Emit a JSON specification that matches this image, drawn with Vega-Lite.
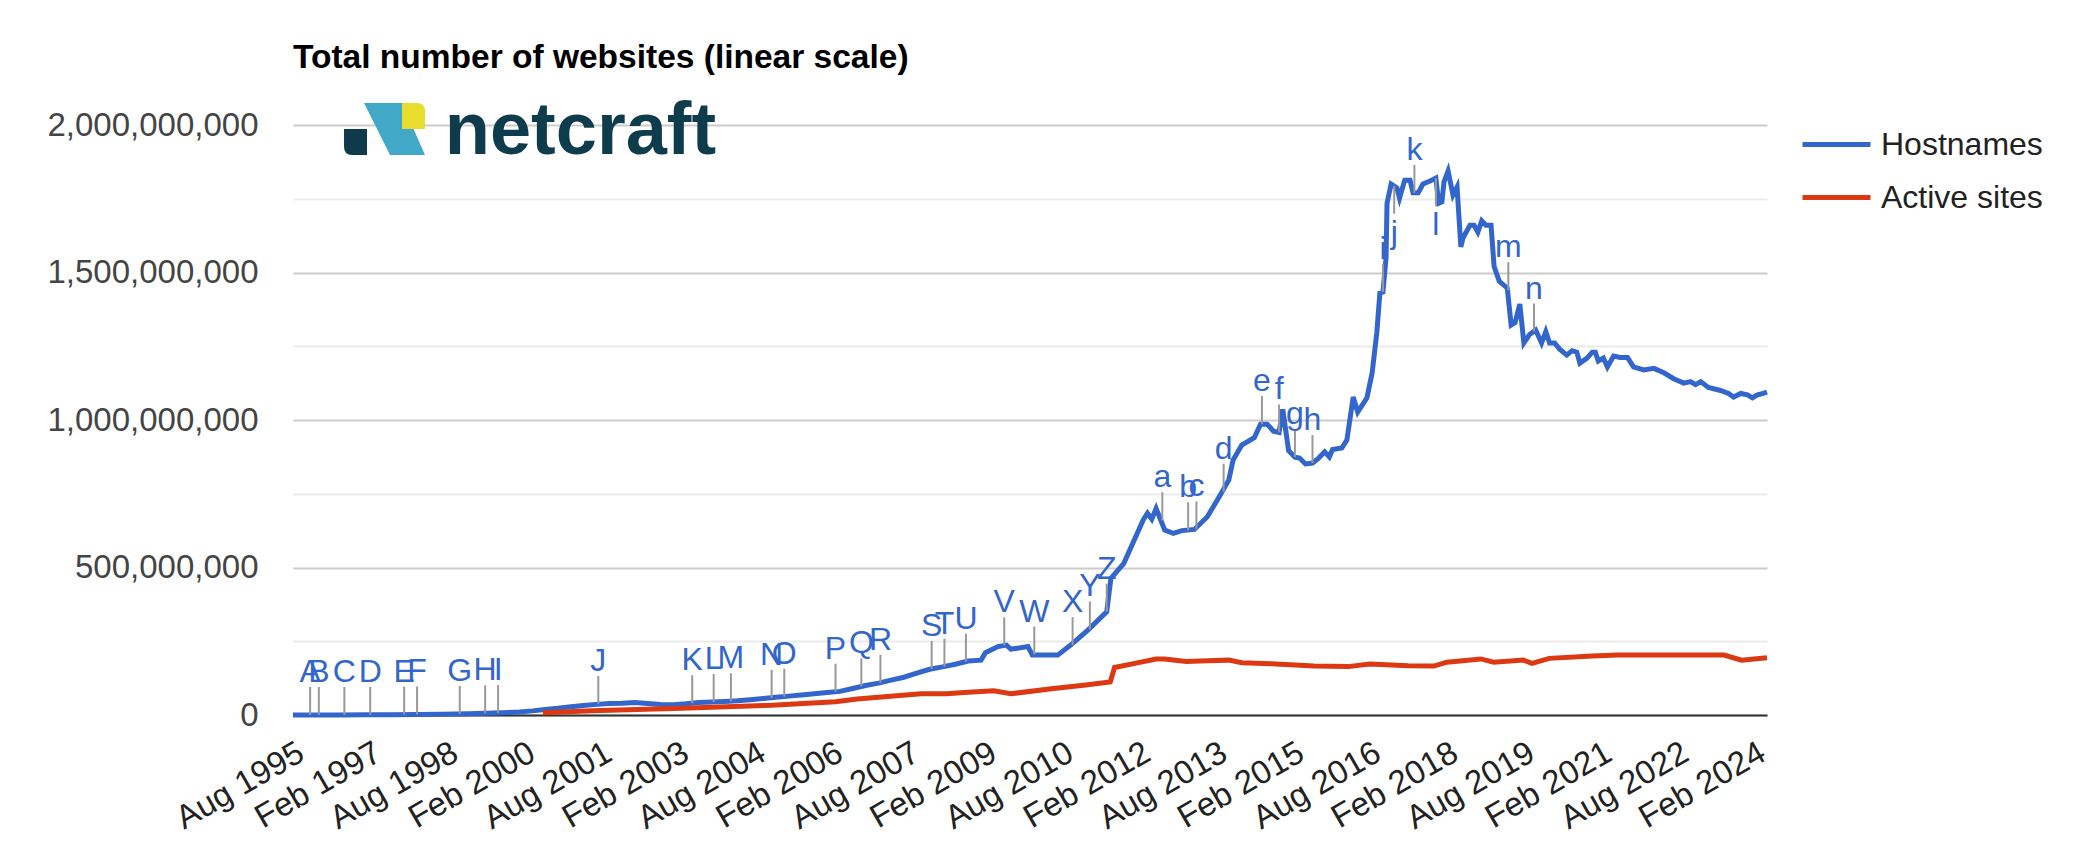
{
  "$schema": "https://vega.github.io/schema/vega-lite/v6.json",
  "autosize": {"type": "none"},
  "padding": {"left": 293, "top": 125, "right": 316, "bottom": 152},
  "width": 1474,
  "height": 590,
  "background": "#ffffff",
  "title": {
    "text": "Total number of websites (linear scale)",
    "anchor": "start",
    "frame": "group",
    "baseline": "alphabetic",
    "offset": -7,
    "font": "Liberation Sans",
    "fontSize": 33.5,
    "fontWeight": "bold",
    "color": "#000000"
  },
  "config": {
    "view": {"stroke": null},
    "font": "Liberation Sans"
  },
  "datasets": {
    "logo": [{"item": "netcraft"}],
    "sites": [
      {"d": "1995-08-01", "s": "Hostnames", "v": 19000},
      {"d": "1996-01-01", "s": "Hostnames", "v": 100000},
      {"d": "1996-07-01", "s": "Hostnames", "v": 300000},
      {"d": "1997-01-01", "s": "Hostnames", "v": 650000},
      {"d": "1997-07-01", "s": "Hostnames", "v": 1200000},
      {"d": "1998-01-01", "s": "Hostnames", "v": 1800000},
      {"d": "1998-07-01", "s": "Hostnames", "v": 2600000},
      {"d": "1999-01-01", "s": "Hostnames", "v": 4000000},
      {"d": "1999-07-01", "s": "Hostnames", "v": 6500000},
      {"d": "2000-01-01", "s": "Hostnames", "v": 10000000},
      {"d": "2000-04-01", "s": "Hostnames", "v": 14000000},
      {"d": "2000-07-01", "s": "Hostnames", "v": 19000000},
      {"d": "2000-10-01", "s": "Hostnames", "v": 23000000},
      {"d": "2001-01-01", "s": "Hostnames", "v": 28000000},
      {"d": "2001-04-01", "s": "Hostnames", "v": 32000000},
      {"d": "2001-07-01", "s": "Hostnames", "v": 36000000},
      {"d": "2001-10-01", "s": "Hostnames", "v": 39000000},
      {"d": "2002-01-01", "s": "Hostnames", "v": 40000000},
      {"d": "2002-04-01", "s": "Hostnames", "v": 42000000},
      {"d": "2002-07-01", "s": "Hostnames", "v": 39000000},
      {"d": "2002-10-01", "s": "Hostnames", "v": 36000000},
      {"d": "2003-01-01", "s": "Hostnames", "v": 35000000},
      {"d": "2003-04-01", "s": "Hostnames", "v": 38000000},
      {"d": "2003-07-01", "s": "Hostnames", "v": 42000000},
      {"d": "2003-10-01", "s": "Hostnames", "v": 44000000},
      {"d": "2004-01-01", "s": "Hostnames", "v": 46000000},
      {"d": "2004-04-01", "s": "Hostnames", "v": 48000000},
      {"d": "2004-07-01", "s": "Hostnames", "v": 52000000},
      {"d": "2004-10-01", "s": "Hostnames", "v": 56000000},
      {"d": "2005-01-01", "s": "Hostnames", "v": 60000000},
      {"d": "2005-04-01", "s": "Hostnames", "v": 64000000},
      {"d": "2005-07-01", "s": "Hostnames", "v": 68000000},
      {"d": "2005-10-01", "s": "Hostnames", "v": 72000000},
      {"d": "2006-01-01", "s": "Hostnames", "v": 76000000},
      {"d": "2006-04-01", "s": "Hostnames", "v": 80000000},
      {"d": "2006-07-01", "s": "Hostnames", "v": 90000000},
      {"d": "2006-10-01", "s": "Hostnames", "v": 100000000},
      {"d": "2007-01-01", "s": "Hostnames", "v": 108000000},
      {"d": "2007-04-01", "s": "Hostnames", "v": 118000000},
      {"d": "2007-07-01", "s": "Hostnames", "v": 128000000},
      {"d": "2007-10-01", "s": "Hostnames", "v": 142000000},
      {"d": "2008-01-01", "s": "Hostnames", "v": 155000000},
      {"d": "2008-04-01", "s": "Hostnames", "v": 163000000},
      {"d": "2008-07-01", "s": "Hostnames", "v": 172000000},
      {"d": "2008-10-01", "s": "Hostnames", "v": 183000000},
      {"d": "2009-01-01", "s": "Hostnames", "v": 186000000},
      {"d": "2009-02-01", "s": "Hostnames", "v": 211000000},
      {"d": "2009-05-01", "s": "Hostnames", "v": 232000000},
      {"d": "2009-07-01", "s": "Hostnames", "v": 237000000},
      {"d": "2009-08-01", "s": "Hostnames", "v": 223000000},
      {"d": "2009-12-01", "s": "Hostnames", "v": 232000000},
      {"d": "2010-01-01", "s": "Hostnames", "v": 203000000},
      {"d": "2010-07-01", "s": "Hostnames", "v": 203000000},
      {"d": "2010-10-01", "s": "Hostnames", "v": 237000000},
      {"d": "2011-02-01", "s": "Hostnames", "v": 288000000},
      {"d": "2011-06-15", "s": "Hostnames", "v": 350000000},
      {"d": "2011-07-15", "s": "Hostnames", "v": 463000000},
      {"d": "2011-10-15", "s": "Hostnames", "v": 514000000},
      {"d": "2012-03-01", "s": "Hostnames", "v": 661000000},
      {"d": "2012-04-01", "s": "Hostnames", "v": 684000000},
      {"d": "2012-05-01", "s": "Hostnames", "v": 664000000},
      {"d": "2012-06-01", "s": "Hostnames", "v": 700000000},
      {"d": "2012-08-01", "s": "Hostnames", "v": 627000000},
      {"d": "2012-10-01", "s": "Hostnames", "v": 616000000},
      {"d": "2012-12-01", "s": "Hostnames", "v": 625000000},
      {"d": "2013-03-01", "s": "Hostnames", "v": 629000000},
      {"d": "2013-06-01", "s": "Hostnames", "v": 672000000},
      {"d": "2013-09-01", "s": "Hostnames", "v": 746000000},
      {"d": "2013-11-01", "s": "Hostnames", "v": 797000000},
      {"d": "2013-12-01", "s": "Hostnames", "v": 864000000},
      {"d": "2014-02-01", "s": "Hostnames", "v": 915000000},
      {"d": "2014-05-01", "s": "Hostnames", "v": 940000000},
      {"d": "2014-06-15", "s": "Hostnames", "v": 986000000},
      {"d": "2014-08-01", "s": "Hostnames", "v": 986000000},
      {"d": "2014-09-15", "s": "Hostnames", "v": 962000000},
      {"d": "2014-10-25", "s": "Hostnames", "v": 958000000},
      {"d": "2014-11-20", "s": "Hostnames", "v": 1036000000},
      {"d": "2015-01-01", "s": "Hostnames", "v": 896000000},
      {"d": "2015-02-15", "s": "Hostnames", "v": 874000000},
      {"d": "2015-03-20", "s": "Hostnames", "v": 871000000},
      {"d": "2015-05-01", "s": "Hostnames", "v": 851000000},
      {"d": "2015-06-20", "s": "Hostnames", "v": 854000000},
      {"d": "2015-08-01", "s": "Hostnames", "v": 870000000},
      {"d": "2015-09-15", "s": "Hostnames", "v": 892000000},
      {"d": "2015-10-18", "s": "Hostnames", "v": 875000000},
      {"d": "2015-11-10", "s": "Hostnames", "v": 900000000},
      {"d": "2016-01-15", "s": "Hostnames", "v": 905000000},
      {"d": "2016-02-20", "s": "Hostnames", "v": 932000000},
      {"d": "2016-04-05", "s": "Hostnames", "v": 1078000000},
      {"d": "2016-05-07", "s": "Hostnames", "v": 1027000000},
      {"d": "2016-07-12", "s": "Hostnames", "v": 1075000000},
      {"d": "2016-08-18", "s": "Hostnames", "v": 1160000000},
      {"d": "2016-09-20", "s": "Hostnames", "v": 1295000000},
      {"d": "2016-10-12", "s": "Hostnames", "v": 1430000000},
      {"d": "2016-11-03", "s": "Hostnames", "v": 1434000000},
      {"d": "2016-11-25", "s": "Hostnames", "v": 1550000000},
      {"d": "2016-12-02", "s": "Hostnames", "v": 1735000000},
      {"d": "2016-12-31", "s": "Hostnames", "v": 1800000000},
      {"d": "2017-02-10", "s": "Hostnames", "v": 1787000000},
      {"d": "2017-03-01", "s": "Hostnames", "v": 1752000000},
      {"d": "2017-04-07", "s": "Hostnames", "v": 1813000000},
      {"d": "2017-05-15", "s": "Hostnames", "v": 1813000000},
      {"d": "2017-06-05", "s": "Hostnames", "v": 1770000000},
      {"d": "2017-07-12", "s": "Hostnames", "v": 1770000000},
      {"d": "2017-08-15", "s": "Hostnames", "v": 1800000000},
      {"d": "2017-10-05", "s": "Hostnames", "v": 1810000000},
      {"d": "2017-11-15", "s": "Hostnames", "v": 1820000000},
      {"d": "2017-12-05", "s": "Hostnames", "v": 1735000000},
      {"d": "2017-12-28", "s": "Hostnames", "v": 1740000000},
      {"d": "2018-01-12", "s": "Hostnames", "v": 1807000000},
      {"d": "2018-02-10", "s": "Hostnames", "v": 1844000000},
      {"d": "2018-03-17", "s": "Hostnames", "v": 1763000000},
      {"d": "2018-04-15", "s": "Hostnames", "v": 1790000000},
      {"d": "2018-05-12", "s": "Hostnames", "v": 1587000000},
      {"d": "2018-05-27", "s": "Hostnames", "v": 1617000000},
      {"d": "2018-07-16", "s": "Hostnames", "v": 1660000000},
      {"d": "2018-08-14", "s": "Hostnames", "v": 1660000000},
      {"d": "2018-09-10", "s": "Hostnames", "v": 1637000000},
      {"d": "2018-10-08", "s": "Hostnames", "v": 1675000000},
      {"d": "2018-11-06", "s": "Hostnames", "v": 1660000000},
      {"d": "2018-12-13", "s": "Hostnames", "v": 1660000000},
      {"d": "2019-01-04", "s": "Hostnames", "v": 1520000000},
      {"d": "2019-02-10", "s": "Hostnames", "v": 1470000000},
      {"d": "2019-04-08", "s": "Hostnames", "v": 1447000000},
      {"d": "2019-05-05", "s": "Hostnames", "v": 1322000000},
      {"d": "2019-06-02", "s": "Hostnames", "v": 1330000000},
      {"d": "2019-07-06", "s": "Hostnames", "v": 1393000000},
      {"d": "2019-08-04", "s": "Hostnames", "v": 1261000000},
      {"d": "2019-09-14", "s": "Hostnames", "v": 1290000000},
      {"d": "2019-10-27", "s": "Hostnames", "v": 1305000000},
      {"d": "2019-12-08", "s": "Hostnames", "v": 1261000000},
      {"d": "2020-01-07", "s": "Hostnames", "v": 1300000000},
      {"d": "2020-02-03", "s": "Hostnames", "v": 1261000000},
      {"d": "2020-03-10", "s": "Hostnames", "v": 1261000000},
      {"d": "2020-04-15", "s": "Hostnames", "v": 1240000000},
      {"d": "2020-06-05", "s": "Hostnames", "v": 1220000000},
      {"d": "2020-07-12", "s": "Hostnames", "v": 1235000000},
      {"d": "2020-08-15", "s": "Hostnames", "v": 1230000000},
      {"d": "2020-09-06", "s": "Hostnames", "v": 1193000000},
      {"d": "2020-10-27", "s": "Hostnames", "v": 1210000000},
      {"d": "2020-12-03", "s": "Hostnames", "v": 1230000000},
      {"d": "2020-12-25", "s": "Hostnames", "v": 1230000000},
      {"d": "2021-01-15", "s": "Hostnames", "v": 1200000000},
      {"d": "2021-02-20", "s": "Hostnames", "v": 1210000000},
      {"d": "2021-03-21", "s": "Hostnames", "v": 1180000000},
      {"d": "2021-05-04", "s": "Hostnames", "v": 1217000000},
      {"d": "2021-06-21", "s": "Hostnames", "v": 1212000000},
      {"d": "2021-08-11", "s": "Hostnames", "v": 1212000000},
      {"d": "2021-09-23", "s": "Hostnames", "v": 1180000000},
      {"d": "2021-12-05", "s": "Hostnames", "v": 1170000000},
      {"d": "2022-02-15", "s": "Hostnames", "v": 1175000000},
      {"d": "2022-04-27", "s": "Hostnames", "v": 1160000000},
      {"d": "2022-07-06", "s": "Hostnames", "v": 1140000000},
      {"d": "2022-09-16", "s": "Hostnames", "v": 1125000000},
      {"d": "2022-11-03", "s": "Hostnames", "v": 1130000000},
      {"d": "2022-12-09", "s": "Hostnames", "v": 1120000000},
      {"d": "2023-01-15", "s": "Hostnames", "v": 1130000000},
      {"d": "2023-03-10", "s": "Hostnames", "v": 1110000000},
      {"d": "2023-06-05", "s": "Hostnames", "v": 1100000000},
      {"d": "2023-08-01", "s": "Hostnames", "v": 1090000000},
      {"d": "2023-09-06", "s": "Hostnames", "v": 1078000000},
      {"d": "2023-10-27", "s": "Hostnames", "v": 1090000000},
      {"d": "2023-12-14", "s": "Hostnames", "v": 1085000000},
      {"d": "2024-01-18", "s": "Hostnames", "v": 1075000000},
      {"d": "2024-02-23", "s": "Hostnames", "v": 1085000000},
      {"d": "2024-04-04", "s": "Hostnames", "v": 1090000000},
      {"d": "2024-05-01", "s": "Hostnames", "v": 1095000000},
      {"d": "2000-06-15", "s": "Active sites", "v": 8000000},
      {"d": "2001-06-01", "s": "Active sites", "v": 14000000},
      {"d": "2003-03-01", "s": "Active sites", "v": 23000000},
      {"d": "2004-12-01", "s": "Active sites", "v": 33000000},
      {"d": "2006-03-01", "s": "Active sites", "v": 45000000},
      {"d": "2006-08-01", "s": "Active sites", "v": 54000000},
      {"d": "2007-11-01", "s": "Active sites", "v": 72000000},
      {"d": "2008-05-01", "s": "Active sites", "v": 72000000},
      {"d": "2008-09-01", "s": "Active sites", "v": 76000000},
      {"d": "2009-04-01", "s": "Active sites", "v": 82000000},
      {"d": "2009-08-01", "s": "Active sites", "v": 72000000},
      {"d": "2010-06-01", "s": "Active sites", "v": 90000000},
      {"d": "2011-01-01", "s": "Active sites", "v": 101000000},
      {"d": "2011-07-10", "s": "Active sites", "v": 112000000},
      {"d": "2011-08-10", "s": "Active sites", "v": 161000000},
      {"d": "2012-01-01", "s": "Active sites", "v": 175000000},
      {"d": "2012-06-01", "s": "Active sites", "v": 190000000},
      {"d": "2012-08-01", "s": "Active sites", "v": 190000000},
      {"d": "2013-01-01", "s": "Active sites", "v": 181000000},
      {"d": "2013-06-01", "s": "Active sites", "v": 184000000},
      {"d": "2013-11-01", "s": "Active sites", "v": 186000000},
      {"d": "2014-02-01", "s": "Active sites", "v": 177000000},
      {"d": "2014-09-01", "s": "Active sites", "v": 174000000},
      {"d": "2015-07-01", "s": "Active sites", "v": 166000000},
      {"d": "2016-03-01", "s": "Active sites", "v": 164000000},
      {"d": "2016-08-01", "s": "Active sites", "v": 173000000},
      {"d": "2017-05-01", "s": "Active sites", "v": 167000000},
      {"d": "2017-11-01", "s": "Active sites", "v": 166000000},
      {"d": "2018-02-01", "s": "Active sites", "v": 179000000},
      {"d": "2018-10-01", "s": "Active sites", "v": 190000000},
      {"d": "2019-01-01", "s": "Active sites", "v": 179000000},
      {"d": "2019-08-01", "s": "Active sites", "v": 186000000},
      {"d": "2019-10-01", "s": "Active sites", "v": 175000000},
      {"d": "2020-02-01", "s": "Active sites", "v": 192000000},
      {"d": "2020-12-01", "s": "Active sites", "v": 200000000},
      {"d": "2021-06-01", "s": "Active sites", "v": 203000000},
      {"d": "2022-11-01", "s": "Active sites", "v": 203000000},
      {"d": "2023-07-01", "s": "Active sites", "v": 203000000},
      {"d": "2023-11-01", "s": "Active sites", "v": 186000000},
      {"d": "2024-05-01", "s": "Active sites", "v": 194000000}
    ],
    "notesAbove": [
      {"d": "1995-12-01", "n": "A", "v": 50000},
      {"d": "1996-02-01", "n": "B", "v": 100000},
      {"d": "1996-08-01", "n": "C", "v": 300000},
      {"d": "1997-02-01", "n": "D", "v": 700000},
      {"d": "1997-10-01", "n": "E", "v": 1500000},
      {"d": "1998-01-01", "n": "F", "v": 1800000},
      {"d": "1998-11-01", "n": "G", "v": 3500000},
      {"d": "1999-05-01", "n": "H", "v": 5500000},
      {"d": "1999-08-01", "n": "I", "v": 7000000},
      {"d": "2001-07-15", "n": "J", "v": 37000000},
      {"d": "2003-05-15", "n": "K", "v": 40000000},
      {"d": "2003-10-15", "n": "L", "v": 44000000},
      {"d": "2004-02-15", "n": "M", "v": 46500000},
      {"d": "2004-12-01", "n": "N", "v": 58000000},
      {"d": "2005-03-01", "n": "O", "v": 62000000},
      {"d": "2006-03-01", "n": "P", "v": 79000000},
      {"d": "2006-09-01", "n": "Q", "v": 97000000},
      {"d": "2007-01-15", "n": "R", "v": 109000000},
      {"d": "2008-01-15", "n": "S", "v": 156000000},
      {"d": "2008-04-15", "n": "T", "v": 164000000},
      {"d": "2008-09-15", "n": "U", "v": 181000000},
      {"d": "2009-06-15", "n": "V", "v": 236000000},
      {"d": "2010-01-15", "n": "W", "v": 205000000},
      {"d": "2010-10-15", "n": "X", "v": 237000000},
      {"d": "2011-02-15", "n": "Y", "v": 290000000},
      {"d": "2011-06-15", "n": "Z", "v": 350000000},
      {"d": "2012-07-15", "n": "a", "v": 660000000},
      {"d": "2013-01-15", "n": "b", "v": 626000000},
      {"d": "2013-03-15", "n": "c", "v": 629000000},
      {"d": "2013-09-25", "n": "d", "v": 757000000},
      {"d": "2014-06-25", "n": "e", "v": 986000000},
      {"d": "2014-10-25", "n": "f", "v": 958000000},
      {"d": "2015-02-15", "n": "g", "v": 874000000},
      {"d": "2015-06-20", "n": "h", "v": 854000000},
      {"d": "2016-11-03", "n": "i", "v": 1434000000},
      {"d": "2017-06-15", "n": "k", "v": 1770000000},
      {"d": "2019-04-15", "n": "m", "v": 1440000000},
      {"d": "2019-10-15", "n": "n", "v": 1300000000}
    ],
    "notesBelow": [
      {"d": "2017-01-22", "n": "j", "v": 1794000000},
      {"d": "2017-11-15", "n": "l", "v": 1820000000}
    ]
  },
  "layer": [
    {
      "data": {"name": "sites"},
      "mark": {"type": "line", "strokeWidth": 5, "interpolate": "linear"},
      "encoding": {
        "x": {
          "field": "d",
          "type": "temporal",
          "scale": {
            "type": "utc",
            "domain": [
              {"year": 1995, "month": 8, "date": 1, "utc": true},
              {"year": 2024, "month": 5, "date": 1, "utc": true}
            ]
          },
          "axis": {
            "title": null,
            "values": [
              {"year": 1995, "month": 8, "date": 1, "utc": true},
              {"year": 1997, "month": 2, "date": 1, "utc": true},
              {"year": 1998, "month": 8, "date": 1, "utc": true},
              {"year": 2000, "month": 2, "date": 1, "utc": true},
              {"year": 2001, "month": 8, "date": 1, "utc": true},
              {"year": 2003, "month": 2, "date": 1, "utc": true},
              {"year": 2004, "month": 8, "date": 1, "utc": true},
              {"year": 2006, "month": 2, "date": 1, "utc": true},
              {"year": 2007, "month": 8, "date": 1, "utc": true},
              {"year": 2009, "month": 2, "date": 1, "utc": true},
              {"year": 2010, "month": 8, "date": 1, "utc": true},
              {"year": 2012, "month": 2, "date": 1, "utc": true},
              {"year": 2013, "month": 8, "date": 1, "utc": true},
              {"year": 2015, "month": 2, "date": 1, "utc": true},
              {"year": 2016, "month": 8, "date": 1, "utc": true},
              {"year": 2018, "month": 2, "date": 1, "utc": true},
              {"year": 2019, "month": 8, "date": 1, "utc": true},
              {"year": 2021, "month": 2, "date": 1, "utc": true},
              {"year": 2022, "month": 8, "date": 1, "utc": true},
              {"year": 2024, "month": 2, "date": 1, "utc": true}
            ],
            "format": "%b %Y",
            "labelAngle": -30,
            "labelAlign": "right",
            "labelBaseline": "top",
            "labelFont": "Liberation Sans",
            "labelFontSize": 33,
            "labelColor": "#222222",
            "labelPadding": 21,
            "labelOverlap": false,
            "labelFlush": false,
            "labelBound": false,
            "ticks": false,
            "tickSize": 0,
            "grid": false,
            "domainColor": "#333333",
            "domainWidth": 2
          }
        },
        "y": {
          "field": "v",
          "type": "quantitative",
          "scale": {"domain": [0, 2000000000], "nice": false},
          "axis": {
            "title": null,
            "values": [0, 250000000, 500000000, 750000000, 1000000000, 1250000000, 1500000000, 1750000000, 2000000000],
            "labelExpr": "datum.value % 500000000 === 0 ? format(datum.value, ',') : ''",
            "labelFont": "Liberation Sans",
            "labelFontSize": 33,
            "labelColor": "#444444",
            "labelPadding": 35,
            "labelLimit": 0,
            "ticks": false,
            "domain": false,
            "grid": true,
            "gridWidth": 2,
            "gridColor": {"condition": {"test": "datum.value % 500000000 === 0", "value": "#cccccc"}, "value": "#ebebeb"}
          }
        },
        "color": {
          "field": "s",
          "type": "nominal",
          "scale": {"domain": ["Hostnames", "Active sites"], "range": ["#3366CC", "#DC3912"]},
          "legend": {
            "title": null,
            "orient": "none",
            "legendX": 1507,
            "legendY": -17,
            "padding": 0,
            "symbolType": "stroke",
            "symbolSize": 4624,
            "symbolStrokeWidth": 5,
            "labelFont": "Liberation Sans",
            "labelFontSize": 32,
            "labelColor": "#222222",
            "labelOffset": 8,
            "labelLimit": 0,
            "rowPadding": -13
          }
        }
      }
    },
    {
      "data": {"name": "logo"},
      "mark": {"type": "point", "shape": "M-0.432,0 L-0.432,0.642 L-0.8,0.642 Q-1,0.642 -1,0.44 L-1,0 Z", "size": 6561, "filled": true, "color": "#0e3a4b", "strokeWidth": 0, "opacity": 1},
      "encoding": {
        "x": {"datum": 863568000000, "type": "temporal"},
        "y": {"datum": 1986400000, "type": "quantitative"}
      }
    },
    {
      "data": {"name": "logo"},
      "mark": {"type": "point", "shape": "M-0.506,-0.642 L0.432,-0.642 L1,0.642 L0.136,0.642 Z", "size": 6561, "filled": true, "color": "#41a8c8", "strokeWidth": 0, "opacity": 1},
      "encoding": {
        "x": {"datum": 863568000000, "type": "temporal"},
        "y": {"datum": 1986400000, "type": "quantitative"}
      }
    },
    {
      "data": {"name": "logo"},
      "mark": {"type": "point", "shape": "M0.432,-0.642 L0.8,-0.642 Q1,-0.642 1,-0.44 L1,0 L0.432,0 Z", "size": 6561, "filled": true, "color": "#e8dc2c", "strokeWidth": 0, "opacity": 1},
      "encoding": {
        "x": {"datum": 863568000000, "type": "temporal"},
        "y": {"datum": 1986400000, "type": "quantitative"}
      }
    },
    {
      "data": {"name": "logo"},
      "mark": {"type": "text", "font": "Liberation Sans", "fontSize": 74, "fontWeight": "bold", "color": "#0f3c4c", "align": "left", "baseline": "alphabetic"},
      "encoding": {
        "text": {"field": "item"},
        "x": {"datum": 900633600000, "type": "temporal"},
        "y": {"datum": 1901700000, "type": "quantitative"}
      }
    },
    {
      "data": {"name": "notesAbove"},
      "mark": {"type": "rule", "color": "#999999", "strokeWidth": 2, "y2Offset": -28},
      "encoding": {
        "x": {"field": "d", "type": "temporal"},
        "y": {"field": "v", "type": "quantitative"},
        "y2": {"field": "v"}
      }
    },
    {
      "data": {"name": "notesBelow"},
      "mark": {"type": "rule", "color": "#999999", "strokeWidth": 2, "y2Offset": 28},
      "encoding": {
        "x": {"field": "d", "type": "temporal"},
        "y": {"field": "v", "type": "quantitative"},
        "y2": {"field": "v"}
      }
    },
    {
      "data": {"name": "notesAbove"},
      "mark": {"type": "text", "font": "Liberation Sans", "fontSize": 32, "color": "#3366CC", "align": "center", "baseline": "alphabetic", "dy": -33},
      "encoding": {
        "x": {"field": "d", "type": "temporal"},
        "y": {"field": "v", "type": "quantitative"},
        "text": {"field": "n"}
      }
    },
    {
      "data": {"name": "notesBelow"},
      "mark": {"type": "text", "font": "Liberation Sans", "fontSize": 32, "color": "#3366CC", "align": "center", "baseline": "top", "dy": 32},
      "encoding": {
        "x": {"field": "d", "type": "temporal"},
        "y": {"field": "v", "type": "quantitative"},
        "text": {"field": "n"}
      }
    }
  ]
}
